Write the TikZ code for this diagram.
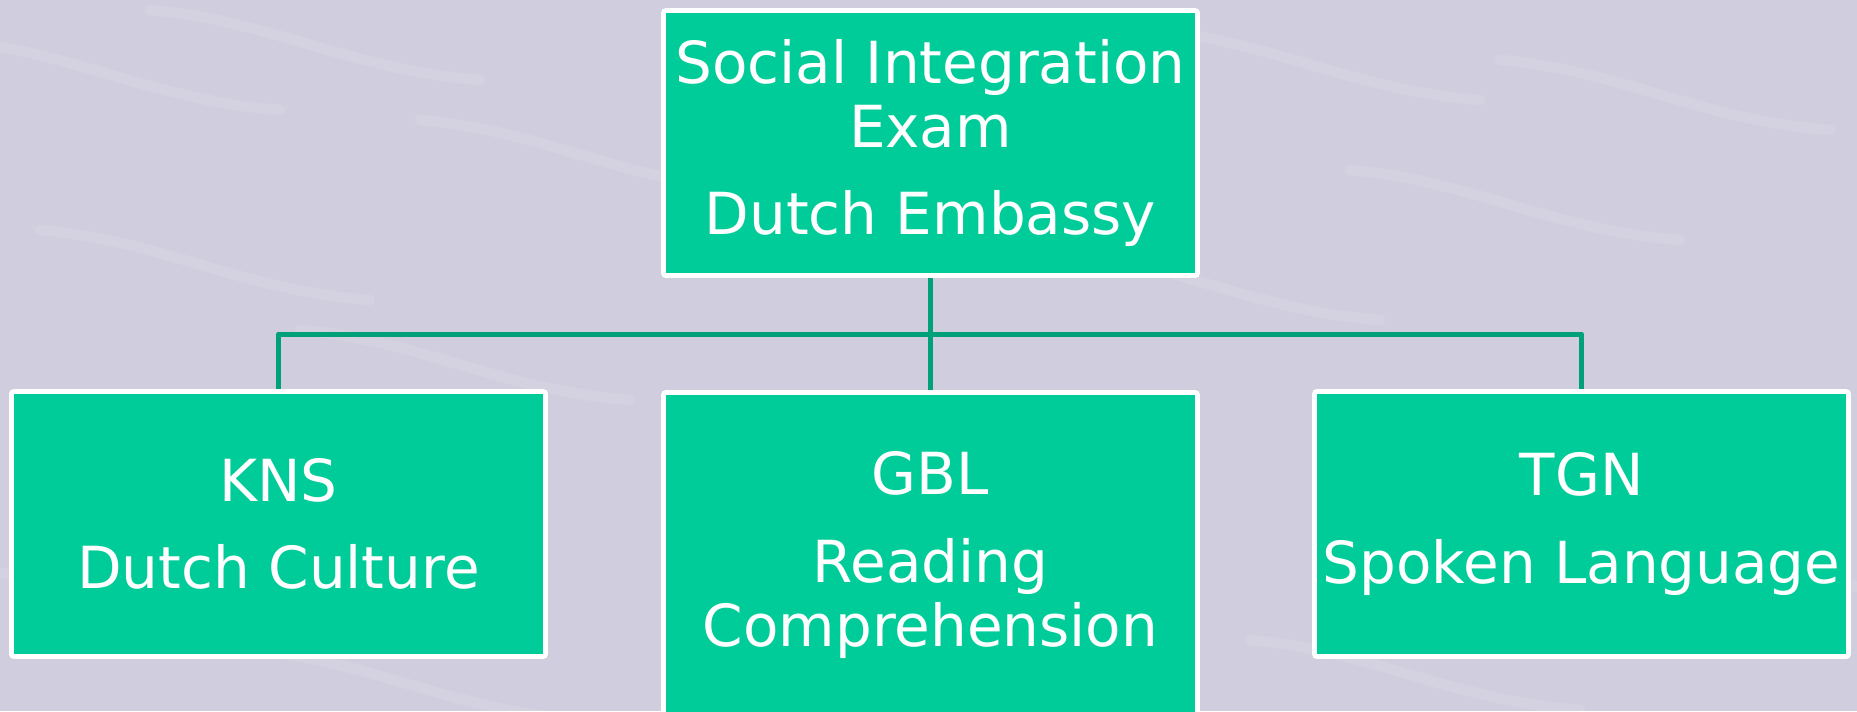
\documentclass[tikz,border=0pt]{standalone}
\usepackage{fontspec}
\setmainfont{DejaVu Sans}
\usetikzlibrary{backgrounds}

\definecolor{boxgreen}{RGB}{0,204,153}
\definecolor{linkgreen}{RGB}{0,160,120}
\definecolor{paper}{RGB}{208,205,222}

\tikzset{
  exambox/.style={draw=white, line width=1.3pt, fill=boxgreen, text=white,
    rounded corners=0.6pt, inner sep=0pt, align=center,
    minimum width=53.4mm, minimum height=26.5mm,
    font=\fontsize{16.5}{18.1}\selectfont},
  link/.style={draw=linkgreen, line width=1.42pt, line join=round},
  streak/.style={draw=white, opacity=0.1, line width=3pt, line cap=round}
}

\begin{document}
\begin{tikzpicture}[x=0.1mm,y=-0.1mm]
\useasboundingbox (0,0) rectangle (1857,711);

\node[exambox] (exam) at (930.5,143) {Social Integration\\Exam\\[6.8pt]Dutch Embassy};
\node[exambox] (kns) at (278.5,524) {KNS\\[6.8pt]Dutch Culture};
\node[exambox, minimum height=32.5mm] (gbl) at (930.5,555) {GBL\\[6.8pt]Reading\\Comprehension};
\node[exambox] (tgn) at (1581.5,524) {TGN\\[6.8pt]Spoken Language};

\coordinate (hub) at (930.5,334);

\begin{pgfonlayer}{background}
\fill[paper] (0,0) rectangle (1857,711);
\foreach \sx/\sy in {-50/40, 150/10, 420/120, 40/230, 300/330, 1150/30, 1350/170, 1500/60, 1050/250, -80/560, 250/650, 1250/640, 1560/520}
  \draw[streak] (\sx,\sy) .. controls (\sx+120,\sy+10) and (\sx+200,\sy+60) .. (\sx+330,\sy+70);
\draw[link] (exam.south) -- (hub);
\draw[link] (hub) -- (gbl.north);
\draw[link] (kns.north) |- (hub) -| (tgn.north);
\end{pgfonlayer}
\end{tikzpicture}
\end{document}
